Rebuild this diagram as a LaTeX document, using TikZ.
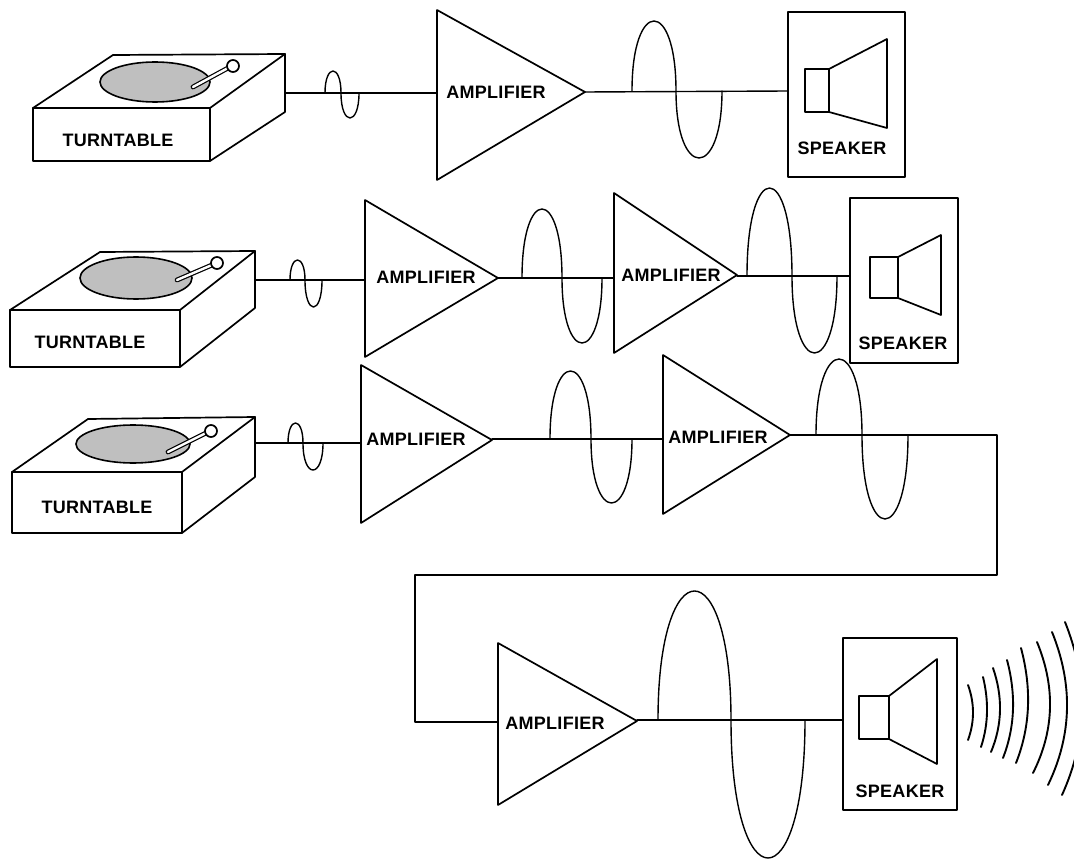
\documentclass[tikz,border=0pt]{standalone}
\usepackage{fontspec}
\newfontfamily\labfont[LetterSpace=1.5]{Liberation Sans}
\newcommand\sigwave[6]{\draw[sig] (#1,#4) .. controls (#1,{#4+(#5-#4)*4/3}) and (#2,{#4+(#5-#4)*4/3}) .. (#2,#4) .. controls (#2,{#4+(#6-#4)*4/3}) and (#3,{#4+(#6-#4)*4/3}) .. (#3,#4);}
\newcommand\sndarc[5]{\draw[snd] (#1,#2) .. controls ({(8*#3-#1-#4)/6},{#2+(#5-#2)/3}) and ({(8*#3-#1-#4)/6},{#2+(#5-#2)*2/3}) .. (#4,#5);}
\begin{document}
\begin{tikzpicture}[x=1pt,y=-1pt,line join=round,line cap=round,
  ln/.style={line width=1.7pt},
  sig/.style={line width=1.4pt},
  snd/.style={line width=1.9pt},
  lab/.style={font=\labfont\bfseries\fontsize{18}{18}\selectfont,inner sep=0pt},
  disc/.style={fill=black!25,draw,line width=1.6pt},
  arm/.style={double,double distance=2.4pt,line width=1.2pt}]
\useasboundingbox (0,0) rectangle (1074,861);
\clip (0,0) rectangle (1074,861);
\fill[white] (0,0) rectangle (1074,861);

% ---------- Row 1 ----------
\draw[ln] (33,108) rectangle (210,161);
\draw[ln] (33,108) -- (113,55) -- (285,54) -- (210,108);
\draw[ln] (285,54) -- (285,112) -- (210,161);
\draw[disc] (155,82) ellipse [x radius=55pt,y radius=20pt];
\draw[arm] (193,87) -- (228,68);
\draw[ln,fill=white] (233,66) circle (6pt);
\node[lab] (tt1) at (118,140) {TURNTABLE};
\coordinate (tt1o) at (285,93);

\draw[ln] (437,10) -- (585,92) -- (437,180) -- cycle;
\coordinate (a1i) at (437,93);
\coordinate (a1o) at (585,92);
\node[lab] (am1) at (496,92) {AMPLIFIER};

\draw[ln] (788,12) rectangle (905,177);
\draw[ln] (805,69) rectangle (829,112);
\draw[ln] (829,69) -- (887,39) -- (887,128) -- (829,112);
\node[lab] (sp1) at (842,148) {SPEAKER};
\coordinate (s1i) at (788,91);

\draw[sig] (tt1o) -- (a1i);
\sigwave{325}{341}{359}{93}{71}{118}
\draw[sig] (a1o) -- (s1i);
\sigwave{632}{676}{722}{91}{21}{158}

% ---------- Row 2 ----------
\draw[ln] (10,310) rectangle (180,367);
\draw[ln] (10,310) -- (100,252) -- (255,251) -- (180,310);
\draw[ln] (255,251) -- (255,308) -- (180,367);
\draw[disc] (136,278) ellipse [x radius=56pt,y radius=21pt];
\draw[arm] (177,280) -- (212,265);
\draw[ln,fill=white] (217,263) circle (6pt);
\node[lab] (tt2) at (90,342) {TURNTABLE};
\coordinate (tt2o) at (255,280);

\draw[ln] (365,200) -- (498,278) -- (365,357) -- cycle;
\coordinate (a2i) at (365,280);
\coordinate (a2o) at (498,278);
\node[lab] (am2) at (426,277) {AMPLIFIER};

\draw[ln] (614,193) -- (737,275) -- (614,353) -- cycle;
\coordinate (a3i) at (614,278);
\coordinate (a3o) at (737,276);
\node[lab] (am3) at (671,275) {AMPLIFIER};

\draw[ln] (850,198) rectangle (958,363);
\draw[ln] (870,257) rectangle (898,298);
\draw[ln] (898,257) -- (941,235) -- (941,315) -- (898,298);
\node[lab] (sp2) at (903,343) {SPEAKER};
\coordinate (s2i) at (850,276);

\draw[sig] (tt2o) -- (a2i);
\sigwave{290}{305}{322}{280}{260}{307}
\draw[sig] (a2o) -- (a3i);
\sigwave{522}{562}{602}{278}{209}{343}
\draw[sig] (a3o) -- (s2i);
\sigwave{747}{792}{837}{276}{188}{353}

% ---------- Row 3 ----------
\draw[ln] (12,472) rectangle (182,533);
\draw[ln] (12,472) -- (88,419) -- (255,417) -- (182,472);
\draw[ln] (255,417) -- (255,477) -- (182,533);
\draw[disc] (133,444) ellipse [x radius=57pt,y radius=19pt];
\draw[arm] (168,452) -- (206,433);
\draw[ln,fill=white] (211,431) circle (6pt);
\node[lab] (tt3) at (97,507) {TURNTABLE};
\coordinate (tt3o) at (255,443);

\draw[ln] (361,365) -- (492,440) -- (361,523) -- cycle;
\coordinate (a4i) at (361,443);
\coordinate (a4o) at (492,439);
\node[lab] (am4) at (416,439) {AMPLIFIER};

\draw[ln] (663,355) -- (790,435) -- (663,514) -- cycle;
\coordinate (a5i) at (663,439);
\coordinate (a5o) at (790,435);
\node[lab] (am5) at (718,437) {AMPLIFIER};

\draw[ln] (498,643) -- (637,721) -- (498,805) -- cycle;
\coordinate (a6i) at (498,722);
\coordinate (a6o) at (637,720);
\node[lab] (am6) at (555,723) {AMPLIFIER};

\draw[ln] (843,638) rectangle (957,810);
\draw[ln] (859,696) rectangle (889,739);
\draw[ln] (889,696) -- (937,659) -- (937,764) -- (889,739);
\node[lab] (sp3) at (900,791) {SPEAKER};
\coordinate (s3i) at (843,720);

\coordinate (k1) at (997,435);
\coordinate (k2) at (997,575);
\coordinate (k3) at (415,575);
\coordinate (k4) at (415,722);

\draw[sig] (tt3o) -- (a4i);
\sigwave{288}{303}{323}{443}{423}{470}
\draw[sig] (a4o) -- (a5i);
\sigwave{550}{591}{632}{439}{371}{503}
\draw[sig] (a5o) -- (k1) -- (k2) -- (k3) -- (k4) -- (a6i);
\sigwave{816}{862}{908}{435}{359}{519}
\draw[sig] (a6o) -- (s3i);
\sigwave{658}{731}{805}{720}{591}{858}

% ---------- Sound ----------
\sndarc{968}{685}{973}{968}{740}
\sndarc{983}{677}{987}{981}{747}
\sndarc{993}{668}{1000}{991}{752}
\sndarc{1007}{660}{1013}{1003}{758}
\sndarc{1021}{648}{1028}{1016}{763}
\sndarc{1037}{642}{1050}{1033}{773}
\sndarc{1052}{632}{1067}{1048}{785}
\sndarc{1065}{622}{1082}{1062}{795}
\end{tikzpicture}
\end{document}
